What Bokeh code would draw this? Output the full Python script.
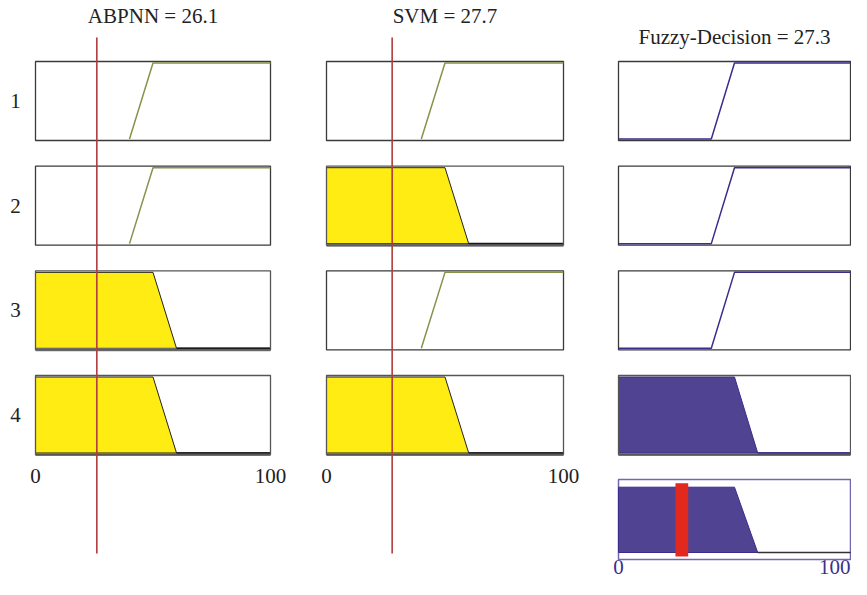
import numpy as np
from bokeh.plotting import figure
from bokeh.layouts import row
from bokeh.models import Range1d
from bokeh.core.properties import value
from bokeh.embed import file_html
from bokeh.resources import INLINE

# ---------------- data ----------------
titles = ["ABPNN = 26.1", "SVM = 27.7", "Fuzzy-Decision = 27.3"]
input_values = [26.1, 27.7]
output_value = 27.3
rule_labels = ["1", "2", "3", "4"]
rule_abpnn = ["high", "high", "low", "low"]
rule_svm = ["high", "low", "high", "low"]
rule_out = ["high", "high", "high", "low"]
x_tick_values = [0, 100]
x_tick_labels = ["0", "100"]

in_high_x = [40, 50, 100]
in_high_mu = [0, 1, 1]
in_low_x = [0, 50, 60, 100]
in_low_mu = [1, 1, 0, 0]
out_high_x = [0, 40, 50, 100]
out_high_mu = [0, 0, 1, 1]
out_low_x = [0, 50, 60, 100]
out_low_mu = [1, 1, 0, 0]
agg_x = [0, 50, 60, 100]
agg_mu = [1, 1, 0, 0]

IN_MF = {"high": (in_high_x, in_high_mu), "low": (in_low_x, in_low_mu)}
OUT_MF = {"high": (out_high_x, out_high_mu), "low": (out_low_x, out_low_mu)}

# ---------------- layout (page pixels) ----------------
PAGE_TOP, PAGE_BOT = 0, 579
ROW0, PITCH, BOX_H = 61.0, 104.67, 79.0
MU_TOP, MU_BOT = 1.02, -0.02
AGG_TOP, AGG_BOT = 479.0, 559.0
AGG_Y0, AGG_PXU = 552.0, 65.3
RED_TOP, RED_BOT = 37.0, 553.0
TITLE_MID = [15.5, 15.5, 36.0]
TICK_MID = 475.5
AGG_TICK_MID = 566.0
ROWLAB_X_PX = 15.0

# columns: (fig_left, fig_right, box_left, box_right) in page px
COLS = [(0, 290, 35, 270), (290, 588, 326, 563), (588, 851, 618, 850)]

FONT = value("Liberation Serif")
FS = "21px"
TXT = "#222222"
GREEN = "#84944a"
YELLOW = "#ffec12"
PURPLE_FILL = "#4f4392"
PURPLE_LINE = "#3a2d8c"
PURPLE_BOX = "#7466b0"
PURPLE_TXT = "#3b2f8e"
REDLINE = "#b23c3c"
REDBAR = "#e3281e"
BOX = "#3a3a3a"


def y_mu(r, mu):
    mu = np.asarray(mu, dtype=float)
    return ROW0 + r * PITCH + (MU_TOP - mu) / (MU_TOP - MU_BOT) * BOX_H


def y_agg(mu):
    return AGG_Y0 - np.asarray(mu, dtype=float) * AGG_PXU


def make_fig(ci):
    fl, fr, bl, br = COLS[ci]
    s = (br - bl) / 100.0
    p = figure(width=fr - fl, height=PAGE_BOT - PAGE_TOP,
               x_range=Range1d((fl - bl) / s, (fr - bl) / s),
               y_range=Range1d(PAGE_BOT, PAGE_TOP),
               output_backend="svg", toolbar_location=None,
               x_axis_location=None, y_axis_location=None,
               min_border=0, outline_line_color=None,
               background_fill_color="white", border_fill_color="white")
    p.grid.visible = False
    return p, s


def degree(val, mf):
    x, mu = mf
    return float(np.interp(val, x, mu))


figs = []
for ci in range(3):
    p, s = make_fig(ci)
    fl, fr, bl, br = COLS[ci]
    for r in range(4):
        top = y_mu(r, MU_TOP)
        bot = y_mu(r, MU_BOT)
        p.quad(left=[0], right=[100], top=[top], bottom=[bot],
               fill_color="white", line_color=None)
        if ci < 2:
            name = (rule_abpnn if ci == 0 else rule_svm)[r]
            mf = IN_MF[name]
            d = degree(input_values[ci], mf)
            color_fill, color_line = YELLOW, GREEN
        else:
            d = min(degree(input_values[0], IN_MF[rule_abpnn[r]]),
                    degree(input_values[1], IN_MF[rule_svm[r]]))
            mf = OUT_MF[rule_out[r]]
            color_fill, color_line = PURPLE_FILL, PURPLE_LINE
        x, mu = mf
        if d > 0:
            px = [x[0]] + list(x) + [x[-1]]
            pm = [0] + list(np.minimum(mu, d)) + [0]
            p.patch(px, y_mu(r, pm), fill_color=color_fill,
                    line_color="#222222" if ci < 2 else PURPLE_LINE, line_width=1)
            p.line([0, 100], [bot, bot], line_color="#7a7a7a", line_width=3)
            zx = [xx for xx, m in zip(x, mu) if m == 0]
            p.line([min(zx), 100], list(y_mu(r, [0, 0])),
                   line_color="#1a1a1a" if ci < 2 else PURPLE_LINE, line_width=1.6)
            p.quad(left=[0], right=[100], top=[top], bottom=[bot],
                   fill_color=None, line_color="#555555", line_width=1.3)
        else:
            p.quad(left=[0], right=[100], top=[top], bottom=[bot],
                   fill_color=None, line_color=BOX, line_width=1.3)
            p.line(x, y_mu(r, mu), line_color=color_line, line_width=1.5)

    if ci < 2:
        v = input_values[ci]
        p.segment(x0=[v], x1=[v], y0=[RED_TOP], y1=[RED_BOT],
                  line_color=REDLINE, line_width=1.6)
        p.text(x=x_tick_values, y=[TICK_MID] * 2, text=x_tick_labels,
               text_font=FONT, text_font_size=FS, text_color=TXT,
               text_align="center", text_baseline="middle")
    else:
        p.quad(left=[0], right=[100], top=[AGG_TOP], bottom=[AGG_BOT],
               fill_color="white", line_color=PURPLE_BOX, line_width=1.5)
        px = [agg_x[0]] + agg_x + [agg_x[-1]]
        pm = [0] + agg_mu + [0]
        p.patch(px, y_agg(pm), fill_color=PURPLE_FILL, line_color=PURPLE_LINE,
                line_width=1)
        p.line([60, 100], list(y_agg([0, 0])), line_color="#333333", line_width=1.5)
        p.vbar(x=[output_value], width=5.5, bottom=[y_agg(-0.06)], top=[y_agg(1.06)],
               fill_color=REDBAR, line_color=None)
        p.text(x=[0], y=[AGG_TICK_MID], text=[x_tick_labels[0]],
               text_font=FONT, text_font_size=FS, text_color=PURPLE_TXT,
               text_align="center", text_baseline="middle")
        p.text(x=[(fr - bl - 1) / s], y=[AGG_TICK_MID], text=[x_tick_labels[1]],
               text_font=FONT, text_font_size=FS, text_color=PURPLE_TXT,
               text_align="right", text_baseline="middle")

    p.text(x=[50], y=[TITLE_MID[ci]], text=[titles[ci]],
           text_font=FONT, text_font_size=FS, text_color=TXT,
           text_align="center", text_baseline="middle")

    if ci == 0:
        ys = [float(y_mu(r, (MU_TOP + MU_BOT) / 2)) for r in range(4)]
        p.text(x=[(ROWLAB_X_PX - bl) / s] * 4, y=ys, text=rule_labels,
               text_font=FONT, text_font_size=FS, text_color=TXT,
               text_align="center", text_baseline="middle")
    figs.append(p)

layout = row(*figs, spacing=0)
open("out.html", "w").write(file_html(layout, INLINE))
